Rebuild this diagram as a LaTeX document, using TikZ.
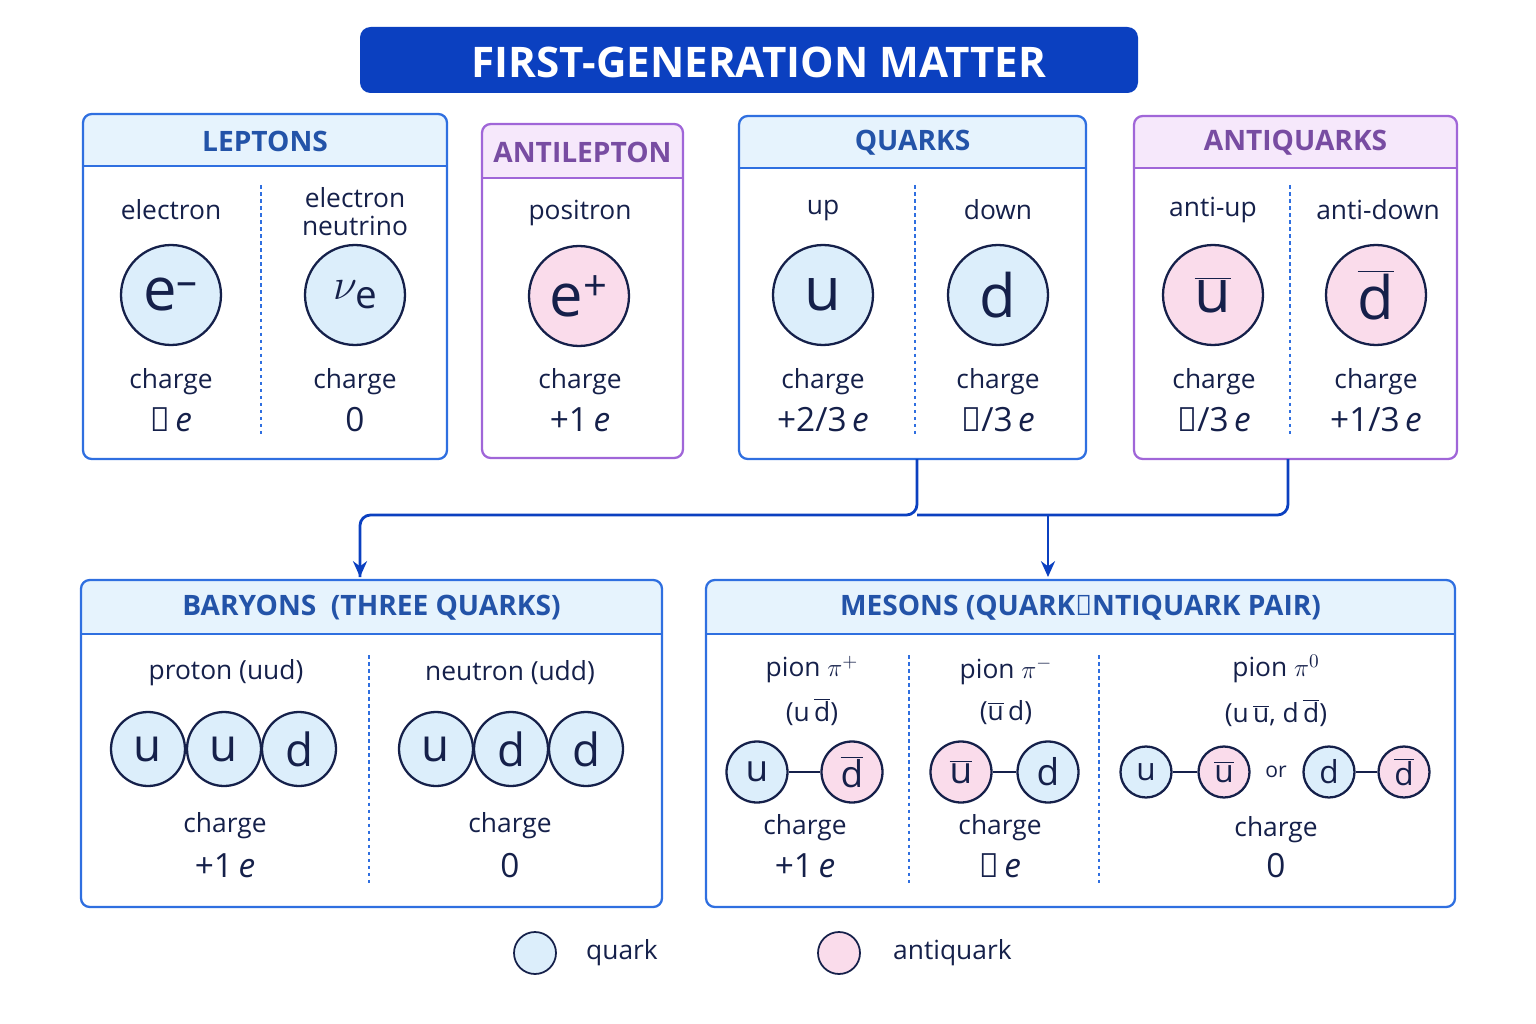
\documentclass[tikz,border=0pt]{standalone}
\usepackage{fontspec}
\setmainfont{Open Sans}
\usetikzlibrary{arrows.meta}

\definecolor{ttlblue}{HTML}{0B40C0}
\definecolor{lnblue}{HTML}{2F6FE0}
\definecolor{hdblue}{HTML}{E6F3FD}
\definecolor{lnpurp}{HTML}{A066D8}
\definecolor{hdpurp}{HTML}{F6E8FB}
\definecolor{qfill}{HTML}{DCEEFB}
\definecolor{afill}{HTML}{FADCEB}
\definecolor{ink}{HTML}{15204A}

\newcommand{\ovl}[1]{\ensuremath{\overline{\mbox{#1}}}}
\newcommand{\mns}{\char"2013}
% panel: name, x1, y1, x2, y2, header bottom, line colour, header fill, title
\newcommand{\panel}[9]{%
  \begin{scope}
    \clip[rounded corners=5pt] (#2,#3) rectangle (#4,#5);
    \fill[#8] (#2,#3) rectangle (#4,#6);
  \end{scope}
  \draw[#7,line width=1.3pt,rounded corners=5pt] (#2,#3) rectangle (#4,#5);
  \draw[#7,line width=1.3pt] (#2,#6) -- (#4,#6);
  \node[font=\fontsize{16}{19}\selectfont\bfseries,text=#7!75!black] (#1) at ({(#2+#4)/2},{(#3+#6)/2+1}) {#9};
}

\begin{document}
\begin{tikzpicture}[x=0.02cm,y=-0.02cm,text=ink,
    lbl/.style={font=\fontsize{15}{16}\selectfont,align=center},
    val/.style={font=\fontsize{19}{21}\selectfont},
    pbig/.style={circle,draw=ink,line width=1.3pt,minimum size=2cm,inner sep=0pt,font=\fontsize{34}{38}\selectfont},
    pmid/.style={circle,draw=ink,line width=1.3pt,minimum size=1.48cm,inner sep=0pt,font=\fontsize{26}{30}\selectfont},
    psml/.style={circle,draw=ink,line width=1.3pt,minimum size=1.22cm,inner sep=0pt,font=\fontsize{21}{24}\selectfont},
    ptny/.style={circle,draw=ink,line width=1.3pt,minimum size=1.02cm,inner sep=0pt,font=\fontsize{18}{21}\selectfont},
    quark/.style={fill=qfill},
    anti/.style={fill=afill},
    sep/.style={lnblue,line width=0.8pt,dash pattern=on 2pt off 2pt},
    bond/.style={ink,line width=1.5pt},
    link/.style={ttlblue,line width=1.6pt,rounded corners=6pt}]
\useasboundingbox (0,0) rectangle (1536,1024);

% title
\fill[ttlblue,rounded corners=6pt] (360,27) rectangle (1138,93);
\node[text=white,font=\fontsize{24}{28}\selectfont\bfseries] (title) at (759,62) {FIRST-GENERATION MATTER};

% upper panels
\panel{leptons}{83}{114}{447}{459}{166}{lnblue}{hdblue}{LEPTONS}
\panel{antilepton}{482}{124}{683}{458}{178}{lnpurp}{hdpurp}{ANTILEPTON}
\panel{quarks}{739}{116}{1086}{459}{168}{lnblue}{hdblue}{QUARKS}
\panel{antiquarks}{1134}{116}{1457}{459}{168}{lnpurp}{hdpurp}{ANTIQUARKS}

\draw[sep] (261,185) -- (261,438);
\draw[sep] (915,185) -- (915,438);
\draw[sep] (1290,185) -- (1290,438);

\node[lbl] (l1) at (171,210) {electron};
\node[lbl] (l2) at (355,212) {electron\\neutrino};
\node[lbl] (l3) at (580,213) {positron};
\node[lbl] (l4) at (823,210) {up};
\node[lbl] (l5) at (998,210) {down};
\node[lbl] (l6) at (1213,210) {anti-up};
\node[lbl] (l7) at (1378,210) {anti-down};

\node[pbig,quark] (em) at (171,295) {e\textsuperscript{\mns}};
\node[pbig,quark] (nue) at (355,295) {$\nu$\kern-1pt\raisebox{-5pt}{\fontsize{22}{24}\selectfont e}};
\node[pbig,anti] (ep) at (579,296) {e\textsuperscript{+}};
\node[pbig,quark] (up) at (823,295) {u};
\node[pbig,quark] (dn) at (998,295) {d};
\node[pbig,anti] (ub) at (1213,295) {\ovl{u}};
\node[pbig,anti] (db) at (1376,295) {\ovl{d}};

\foreach \x in {171,355,580,823,998,1214,1376}
  \node[lbl] at (\x,382) {charge};
\node[val] (c1) at (171,420) {\mns1\,\textit{e}};
\node[val] (c2) at (355,420) {0};
\node[val] (c3) at (580,420) {+1\,\textit{e}};
\node[val] (c4) at (823,420) {+2/3\,\textit{e}};
\node[val] (c5) at (998,420) {\mns1/3\,\textit{e}};
\node[val] (c6) at (1214,420) {\mns2/3\,\textit{e}};
\node[val] (c7) at (1376,420) {+1/3\,\textit{e}};

% lower panels
\panel{baryons}{81}{580}{662}{907}{634}{lnblue}{hdblue}{BARYONS~~(THREE QUARKS)}
\panel{mesons}{706}{580}{1455}{907}{634}{lnblue}{hdblue}{MESONS (QUARK\mns ANTIQUARK PAIR)}

% connectors
\coordinate (qs) at (917,459);
\coordinate (as) at (1288,459);
\coordinate (bn) at (360,577);
\coordinate (mn) at (1048,577);
\draw[link] (qs) -- (917,515) -- (360,515) -- (bn);
\draw[link] (as) -- (1288,515) -- (917,515);
\draw[ttlblue,line width=1.6pt,-{Stealth[length=9pt,width=8pt]}] (360,540) -- (bn);
\draw[ttlblue,line width=1.6pt,-{Stealth[length=9pt,width=8pt]}] (1048,515) -- (mn);

% baryons
\draw[sep] (369,655) -- (369,885);
\node[lbl] (pr) at (226,673) {proton (uud)};
\node[lbl] (ne) at (510,673) {neutron (udd)};
\node[pmid,quark] (p1) at (148,749) {u};
\node[pmid,quark] (p2) at (224,749) {u};
\node[pmid,quark] (p3) at (299,749) {d};
\node[pmid,quark] (n1) at (436,749) {u};
\node[pmid,quark] (n2) at (511,749) {d};
\node[pmid,quark] (n3) at (586,749) {d};
\node[lbl] at (225,826) {charge};
\node[lbl] at (510,826) {charge};
\node[val] at (225,866) {+1\,\textit{e}};
\node[val] at (510,866) {0};

% mesons
\draw[sep] (909,655) -- (909,885);
\draw[sep] (1099,655) -- (1099,885);
\node[lbl] (pip) at (812,691) {pion $\pi^{+}$\\[8pt](u\,\ovl{d})};
\node[lbl] (pim) at (1006,691) {pion $\pi^{-}$\\[8pt](\ovl{u}\,d)};
\node[lbl] (piz) at (1276,691) {pion $\pi^{0}$\\[8pt](u\,\ovl{u}, d\,\ovl{d})};

\node[psml,quark] (a1) at (757,772) {u};
\node[psml,anti] (a2) at (852,772) {\ovl{d}};
\draw[bond] (a1) -- (a2);
\node[psml,anti] (b1) at (961,772) {\ovl{u}};
\node[psml,quark] (b2) at (1048,772) {d};
\draw[bond] (b1) -- (b2);
\node[ptny,quark] (z1) at (1146,772) {u};
\node[ptny,anti] (z2) at (1224,772) {\ovl{u}};
\draw[bond] (z1) -- (z2);
\node[font=\fontsize{12}{14}\selectfont] (or) at (1276,772) {or};
\node[ptny,quark] (z3) at (1329,772) {d};
\node[ptny,anti] (z4) at (1404,772) {\ovl{d}};
\draw[bond] (z3) -- (z4);

\node[lbl] at (805,828) {charge};
\node[lbl] at (1000,828) {charge};
\node[lbl] at (1276,830) {charge};
\node[val] at (805,866) {+1\,\textit{e}};
\node[val] at (1000,866) {\mns1\,\textit{e}};
\node[val] at (1276,866) {0};

% legend
\node[circle,draw=ink,line width=1pt,quark,minimum size=0.84cm] (lq) at (535,953) {};
\node[lbl,anchor=west] (lqt) at (580,953) {quark};
\node[circle,draw=ink,line width=1pt,anti,minimum size=0.84cm] (la) at (839,953) {};
\node[lbl,anchor=west] (lat) at (887,953) {antiquark};
\end{tikzpicture}
\end{document}
